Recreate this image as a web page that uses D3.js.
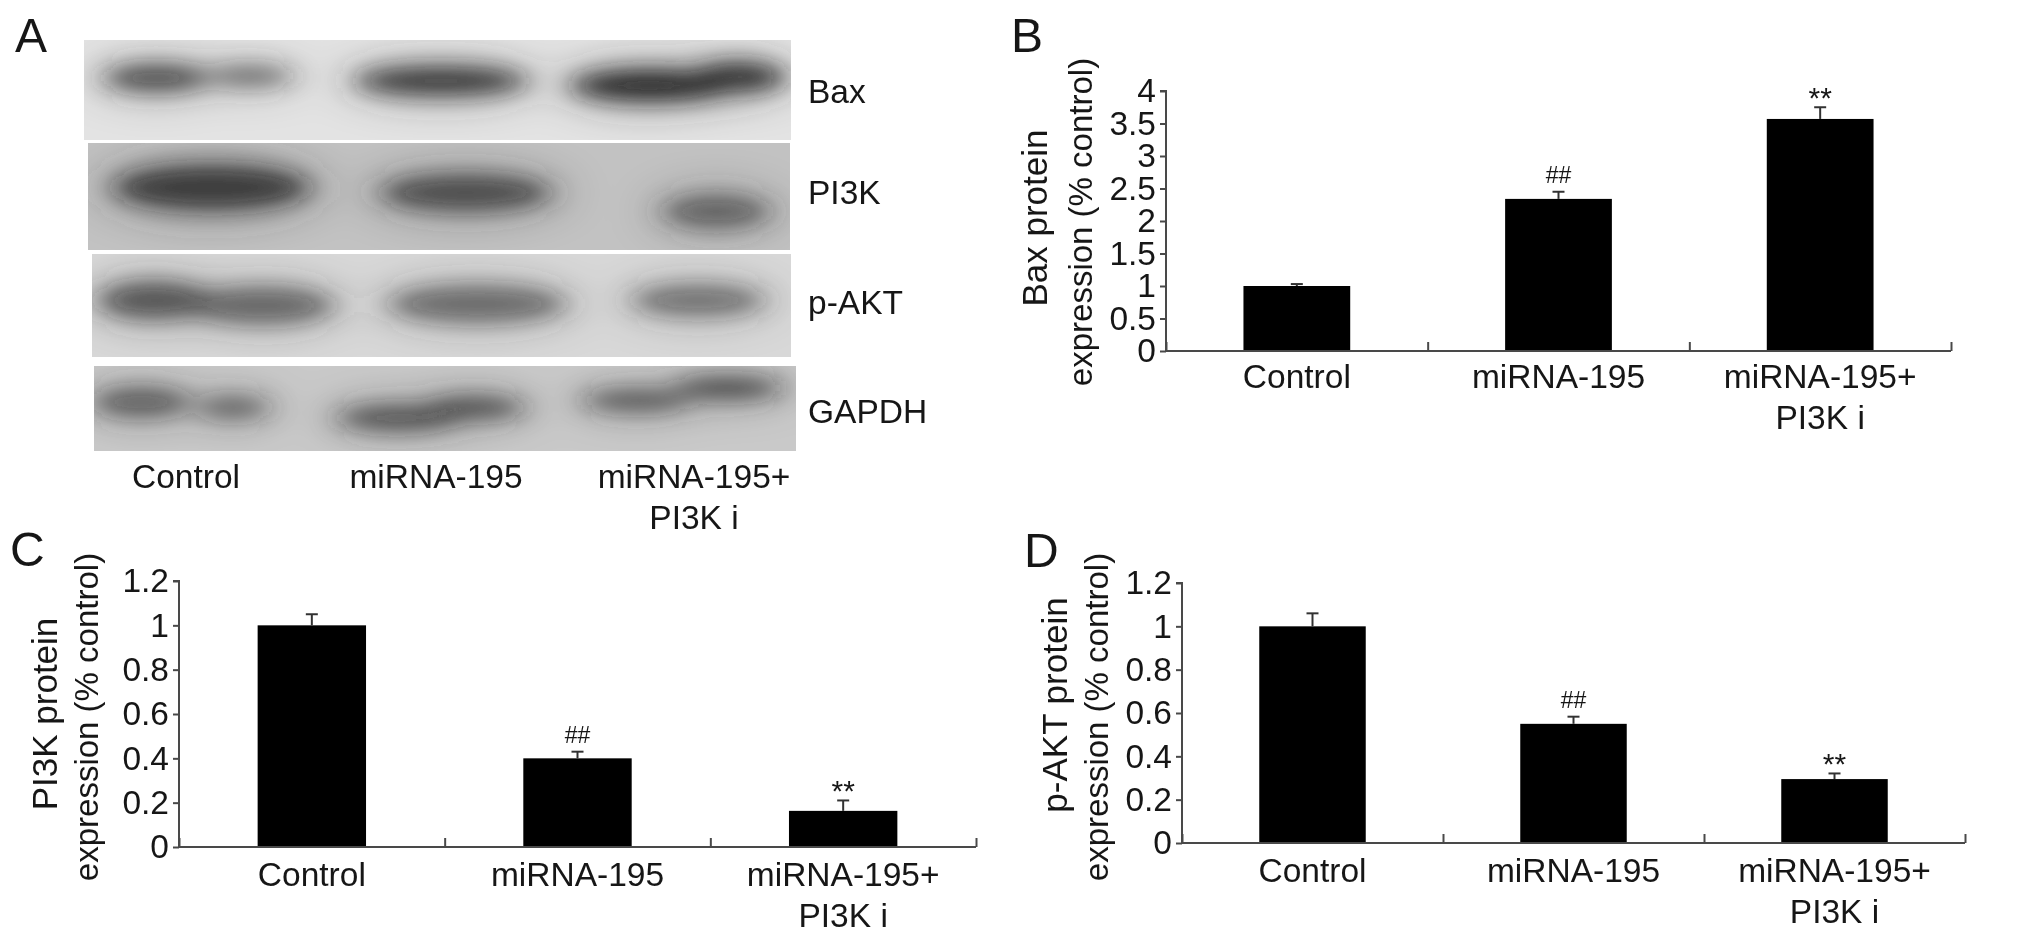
<!DOCTYPE html>
<html><head><meta charset="utf-8">
<script src="https://cdnjs.cloudflare.com/ajax/libs/d3/7.8.5/d3.min.js"></script>
<style>html,body{margin:0;background:#fff}svg{display:block}text{font-family:"Liberation Sans",Arial,sans-serif;fill:#161616}</style>
</head><body><svg id="c" width="2032" height="936"></svg>
<script>
// ---- data ----
const categories = ["Control", "miRNA-195", "miRNA-195+\nPI3K i"];
const baxValues = [1.0, 2.34, 3.57];
const baxErrors = [0.03, 0.11, 0.18];
const pi3kValues = [1.0, 0.40, 0.163];
const pi3kErrors = [0.05, 0.03, 0.047];
const aktValues = [1.0, 0.55, 0.295];
const aktErrors = [0.06, 0.033, 0.026];
const baxTicks = [0, 0.5, 1, 1.5, 2, 2.5, 3, 3.5, 4];
const ratioTicks = [0, 0.2, 0.4, 0.6, 0.8, 1, 1.2];
const significance = ["", "##", "**"];
const blotLabels = ["Bax", "PI3K", "p-AKT", "GAPDH"];
// band densities read from the gel, in gel units: [x%, y%, rx%, ry%, density]
const baxBands = [[10.2,38,7.4,13,.75],[23.6,36,6,11,.55],[50.5,41,12,14,.88],[79.9,45.5,10.8,15,1],[92.9,37,6.2,14,.92]];
const pi3kBands = [[17.6,41.7,13.8,20,.82],[53.8,46.5,12,16,.72],[89.5,64,7.6,15,.58]];
const aktBands = [[8.7,45,7.8,17,.7],[24.5,50,10,17,.6],[55.1,48.5,12.6,17,.58],[86.7,45,9.5,14.5,.55]];
const gapdhBands = [[6.7,42.6,7,16.5,.62],[19.9,48.8,5.2,14,.55],[43.1,61,8.5,14.5,.68],[54.5,49,6.8,13,.68],[77.2,40.6,7.6,12.5,.65],[90.4,26,7.6,12.5,.72]];

// ---- layout ----
const svg = d3.select("#c");
const defs = svg.append("defs");
defs.append("filter").attr("id","soft").attr("x","-5%").attr("y","-5%").attr("width","110%").attr("height","110%")
  .append("feGaussianBlur").attr("stdDeviation",0.6);
defs.append("filter").attr("id","band").attr("x","-60%").attr("y","-100%").attr("width","220%").attr("height","300%")
  .append("feGaussianBlur").attr("stdDeviation","14 10");
defs.append("filter").attr("id","halo").attr("x","-60%").attr("y","-100%").attr("width","220%").attr("height","300%")
  .append("feGaussianBlur").attr("stdDeviation","24 18");
const root = svg.append("g").attr("filter","url(#soft)");

const FS = 33.5;
function label(g,x,y,t,o={}){
  return g.append("text").attr("x",x).attr("y",y).attr("text-anchor",o.anchor||"start")
    .attr("font-size",o.size||FS).text(t);
}

// panel A
const blots = [
 {name:blotLabels[0],bands:baxBands,x0:84,x1:791,y0:40,y1:140,bg:"#e3e3e3",ly:103},
 {name:blotLabels[1],bands:pi3kBands,x0:88,x1:790,y0:143,y1:250,bg:"#c2c2c2",ly:204},
 {name:blotLabels[2],bands:aktBands,x0:92,x1:791,y0:254,y1:357,bg:"#d8d8d8",ly:314},
 {name:blotLabels[3],bands:gapdhBands,x0:94,x1:796,y0:366,y1:451,bg:"#c9c9c9",ly:423}
];
blots.forEach((b,i)=>{
  const sx=d3.scaleLinear([0,100],[b.x0,b.x1]), sy=d3.scaleLinear([0,100],[b.y0,b.y1]);
  const id="clip"+i;
  defs.append("clipPath").attr("id",id).append("rect").attr("x",b.x0).attr("y",b.y0).attr("width",b.x1-b.x0).attr("height",b.y1-b.y0);
  const g=root.append("g").attr("clip-path",`url(#${id})`);
  g.append("rect").attr("x",b.x0).attr("y",b.y0).attr("width",b.x1-b.x0).attr("height",b.y1-b.y0).attr("fill",b.bg);
  g.append("g").attr("filter","url(#halo)").selectAll("ellipse").data(b.bands).join("ellipse")
    .attr("cx",d=>sx(d[0])).attr("cy",d=>sy(d[1]))
    .attr("rx",d=>(sx(d[2])-sx(0))*1.15).attr("ry",d=>(sy(d[3])-sy(0))*1.6)
    .attr("fill","#303030").attr("opacity",d=>d[4]*.4);
  g.append("g").attr("filter","url(#band)").selectAll("ellipse").data(b.bands).join("ellipse")
    .attr("cx",d=>sx(d[0])).attr("cy",d=>sy(d[1]))
    .attr("rx",d=>sx(d[2])-sx(0)).attr("ry",d=>sy(d[3])-sy(0))
    .attr("fill","#1e1e1e").attr("opacity",d=>d[4]*.88);
  label(root,808,b.ly,b.name);
});
const laneCenters=[186,436,694];
categories.forEach((c,i)=>{
  c.split("\n").forEach((t,k)=>label(root,laneCenters[i],488+k*40.5,t,{anchor:"middle"}));
});
[["A",15,52],["B",1011,52],["C",10,566],["D",1024,567]].forEach(d=>label(root,d[1],d[2],d[0],{size:48}));

// bar panels
function panel(p){
  const g=root.append("g");
  const x=d3.scaleBand(categories,[p.x0,p.x1]).paddingInner(0.592).paddingOuter(0.296);
  const y=d3.scaleLinear([0,p.max],[p.y0,p.y1]);
  const q=d3.scaleLinear([0,categories.length],[p.x0,p.x1]);
  const cx=i=>x(categories[i])+x.bandwidth()/2;
  g.selectAll("rect.bar").data(p.values).join("rect").attr("class","bar")
    .attr("x",(d,i)=>x(categories[i])).attr("width",x.bandwidth())
    .attr("y",d=>y(d)).attr("height",d=>y(0)-y(d)).attr("fill","#000");
  p.errors.forEach((e,i)=>{
    const top=y(p.values[i]+e), c=cx(i);
    g.append("line").attr("x1",c).attr("x2",c).attr("y1",top).attr("y2",y(p.values[i])).attr("stroke","#333").attr("stroke-width",2);
    g.append("line").attr("x1",c-6).attr("x2",c+6).attr("y1",top).attr("y2",top).attr("stroke","#333").attr("stroke-width",2);
    if(significance[i]==="##") label(g,c,top-9,"##",{anchor:"middle",size:23});
    if(significance[i]==="**") label(g,c,top+1,"**",{anchor:"middle",size:30});
  });
  const ay=g.append("g").attr("transform",`translate(${p.x0},0)`)
    .call(d3.axisLeft(y).tickValues(p.ticks).tickSize(6).tickPadding(4).tickFormat(d3.format("~g")));
  const ax=g.append("g").attr("transform",`translate(0,${p.y0})`)
    .call(d3.axisBottom(q).tickValues(d3.range(categories.length+1)).tickSize(-9).tickFormat(""));
  [ay,ax].forEach(a=>{a.selectAll("path,line").attr("stroke","#4a4a4a").attr("stroke-width",2);});
  ax.select("path").attr("d",`M${p.x0},0H${p.x1}`);
  ay.select("path").attr("d",`M0,${p.y0}V${p.y1}H-6`);
  ay.selectAll("text").attr("font-size",FS).attr("font-family","Liberation Sans");
  categories.forEach((c,i)=>c.split("\n").forEach((t,k)=>
    label(g,cx(i),p.labY+k*40.5,t,{anchor:"middle"})));
  p.title.forEach((t,k)=>{
    g.append("text").attr("transform",`translate(${p.titleX[k]},${p.titleY[k]}) rotate(-90)`)
     .attr("text-anchor","middle").attr("font-size",k===0?35:33).text(t);
  });
}
panel({x0:1166,x1:1951,y0:351,y1:91,max:4,ticks:baxTicks,values:baxValues,errors:baxErrors,labY:388,
  title:["Bax protein","expression (% control)"],titleX:[1047,1092],titleY:[218,222]});
panel({x0:179,x1:976,y0:847,y1:581,max:1.2,ticks:ratioTicks,values:pi3kValues,errors:pi3kErrors,labY:886,
  title:["PI3K protein","expression (% control)"],titleX:[57,98],titleY:[714,717]});
panel({x0:1182,x1:1965,y0:843,y1:583,max:1.2,ticks:ratioTicks,values:aktValues,errors:aktErrors,labY:882,
  title:["p-AKT protein","expression (% control)"],titleX:[1067,1108],titleY:[705,717]});
</script></body></html>
